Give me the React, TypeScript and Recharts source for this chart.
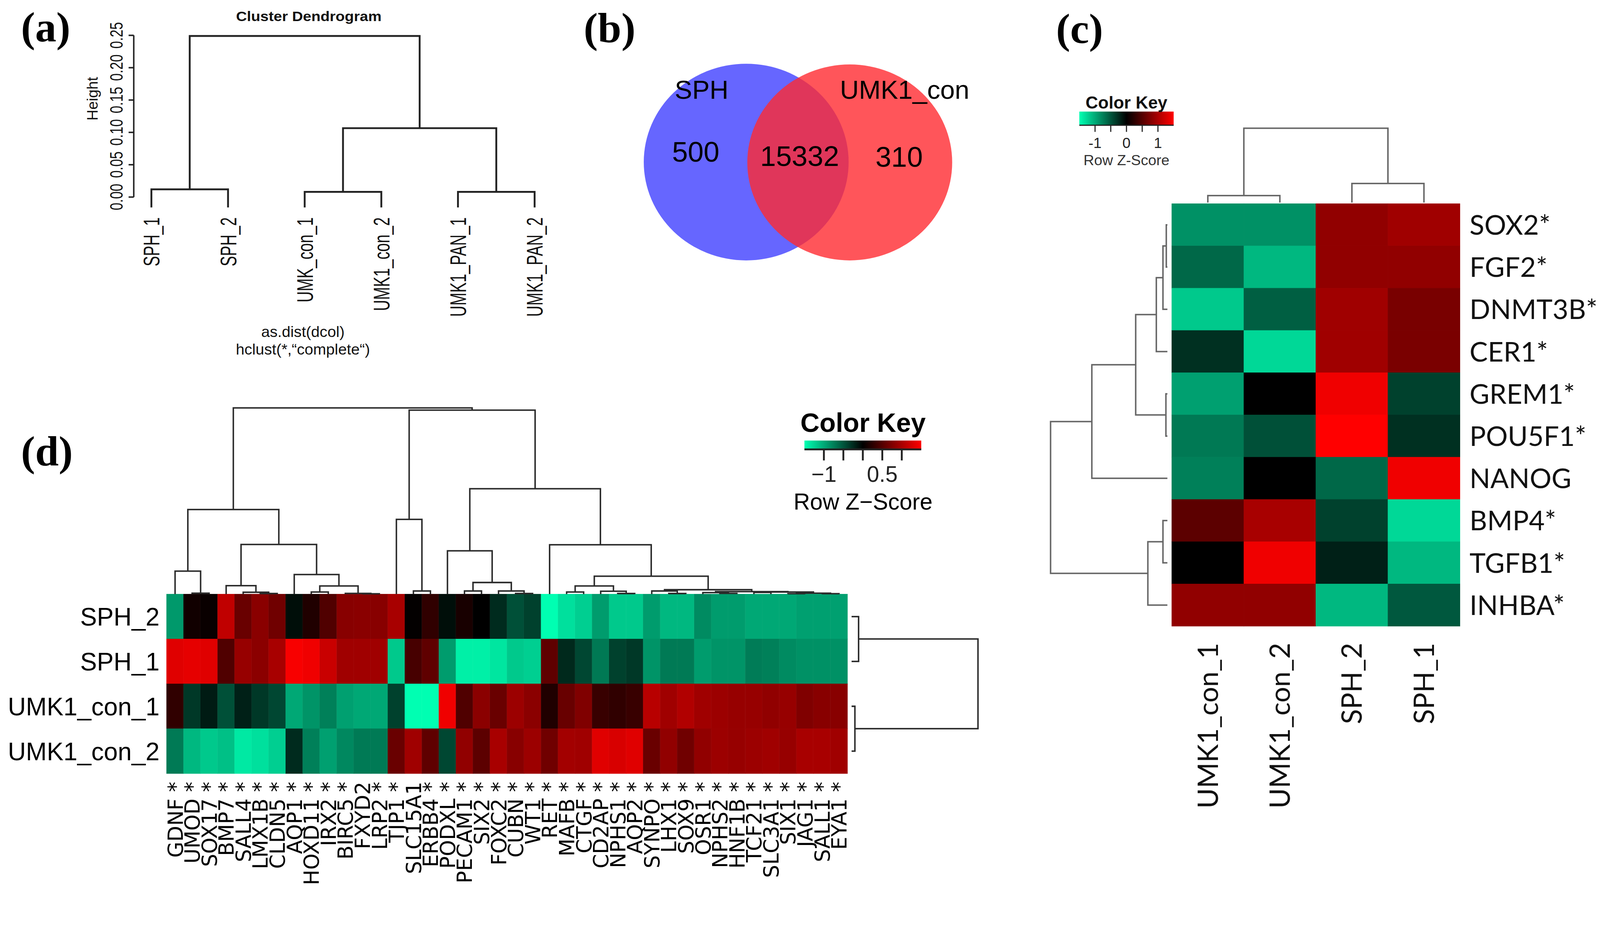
import React from "react";
import { ScatterChart, Scatter, XAxis, YAxis, ReferenceLine, ReferenceArea } from "recharts";

const PAGE_W = 4342;
const PAGE_H = 2415;

// ---------- (a) sample clustering ----------
const aLeaves = ["SPH_1", "SPH_2", "UMK_con_1", "UMK1_con_2", "UMK1_PAN_1", "UMK1_PAN_2"];
// hclust style merges: negative = leaf (1-based), positive = earlier merge; third value = height
const aMerges = [
  [-1, -2, 0.012],
  [-3, -4, 0.008],
  [-5, -6, 0.008],
  [2, 3, 0.1065],
  [1, 4, 0.249],
];
const aHeightTicks = [0, 0.05, 0.1, 0.15, 0.2, 0.25];
const aLeafHang = -0.016;

// ---------- (b) Venn ----------
const vennSets = ["SPH", "UMK1_con"];
const vennCounts = [500, 15332, 310]; // SPH only, shared, UMK1_con only

// ---------- (c) stemness genes ----------
const cGenes = ["SOX2*", "FGF2*", "DNMT3B*", "CER1*", "GREM1*", "POU5F1*", "NANOG", "BMP4*", "TGFB1*", "INHBA*"];
const cSamples = ["UMK1_con_1", "UMK1_con_2", "SPH_2", "SPH_1"];
const cUMK1_con_1 = [-0.85, -0.61, -1.18, -0.28, -0.94, -0.71, -0.75, 0.54, 0, 0.85];
const cUMK1_con_2 = [-0.85, -1.08, -0.56, -1.27, 0, -0.47, 0, 0.99, 1.41, 0.85];
const cSPH_2 = [0.85, 0.85, 0.94, 0.94, 1.41, 1.5, -0.61, -0.38, -0.19, -1.08];
const cSPH_1 = [0.94, 0.85, 0.71, 0.72, -0.38, -0.28, 1.41, -1.27, -1.08, -0.52];
const cRowMerges = [
  [-1, -2, 3],
  [-3, 1, 12],
  [-4, 2, 30],
  [-5, -6, 4],
  [3, 4, 86],
  [-7, 5, 205],
  [-8, -9, 12],
  [-10, 7, 53],
  [6, 8, 317],
];
const cColMerges = [
  [-1, -2, 19],
  [-3, -4, 52],
  [1, 2, 202],
];
const cKeyTicks = [-1, -0.5, 0, 0.5, 1];
const cKeyLabels = [-1, 0, 1];

// ---------- (d) kidney genes ----------
const dGenes = [
  "GDNF *", "UMOD *", "SOX17 *", "BMP7 *", "SALL4 *", "LMX1B *", "CLDN5 *", "AQP1 *", "HOXD11 *", "IRX2 *",
  "BIRC5 *", "FXYD2", "LRP2 *", "TJP1 *", "SLC15A1", "ERBB4 *", "PODXL *", "PECAM1 *", "SIX2 *", "FOXC2 *",
  "CUBN *", "WT1 *", "RET *", "MAFB *", "CTGF *", "CD2AP *", "NPHS1 *", "AQP2 *", "SYNPO *", "LHX1 *",
  "SOX9 *", "OSR1 *", "NPHS2 *", "HNF1B *", "TCF21 *", "SLC3A1 *", "SIX1 *", "JAG1 *", "SALL1 *", "EYA1 *",
];
const dSamples = ["SPH_2", "SPH_1", "UMK1_con_1", "UMK1_con_2"];
const dSPH_2 = [-0.9, 0.1, 0.05, 1.13, 0.62, 0.81, 0.66, -0.08, 0.19, 0.47, 0.8, 0.81, 0.8, 0.99, 0.02, 0.28, -0.08, 0.14, 0, -0.25, -0.47, -0.38, -1.5, -1.32, -1.22, -0.92, -1.18, -1.18, -0.92, -1.08, -1.08, -0.82, -0.92, -0.92, -0.99, -0.99, -0.99, -0.94, -0.94, -0.94];
const dSPH_1 = [1.32, 1.35, 1.32, 0.47, 0.89, 0.82, 0.99, 1.46, 1.41, 1.18, 0.94, 0.94, 0.94, -1.18, 0.42, 0.56, -0.92, -1.41, -1.41, -1.35, -1.18, -1.22, 0.56, -0.24, -0.42, -0.71, -0.38, -0.33, -0.87, -0.72, -0.72, -0.92, -0.87, -0.87, -0.73, -0.75, -0.82, -0.85, -0.85, -0.85];
const dUMK1_con_1 = [0.28, -0.33, -0.16, -0.47, -0.19, -0.33, -0.42, -0.99, -0.87, -0.75, -0.94, -0.99, -0.99, -0.38, -1.5, -1.5, 1.41, 0.47, 0.82, 0.62, 0.92, 0.82, 0.19, 0.61, 0.75, 0.33, 0.28, 0.33, 1.08, 0.94, 1.04, 0.94, 0.92, 0.89, 0.89, 0.85, 0.89, 0.75, 0.8, 0.8];
const dUMK1_con_2 = [-0.72, -1.08, -1.18, -1.13, -1.37, -1.32, -1.22, -0.25, -0.75, -0.94, -0.8, -0.72, -0.72, 0.62, 0.94, 0.56, -0.42, 0.85, 0.54, 0.99, 0.8, 0.92, 0.66, 0.96, 0.94, 1.32, 1.27, 1.32, 0.62, 0.85, 0.66, 0.85, 0.92, 0.89, 0.92, 0.94, 0.89, 0.99, 0.99, 0.94];
const dColMerges = [
  [-2, -3, 8], [-1, 1, 182], [-6, -7, 5], [-5, 3, 15], [-4, 4, 67],
  [-9, -10, 17], [-12, -13, 3], [-11, 7, 6], [6, 8, 65], [-8, 9, 155],
  [5, 10, 392], [2, 11, 668], [-15, -16, 25], [-14, 13, 590], [-18, -19, 25],
  [-21, -22, 5], [-20, 16, 25], [15, 17, 92], [-17, 18, 342], [-24, -25, 17],
  [-27, -28, 5], [-26, 21, 23], [20, 22, 65], [-30, -31, 5], [-29, 24, 25],
  [-33, -34, 6], [-32, 26, 12], [-35, -36, 14], [-37, -38, 4], [-39, -40, 4],
  [29, 30, 8], [28, 31, 17], [27, 32, 20], [25, 33, 35], [23, 34, 142],
  [-23, 35, 390], [19, 36, 832], [14, 37, 1452], [12, 38, 1470],
];
const dRowMerges = [
  [-1, -2, 19],
  [-3, -4, 9],
  [1, 2, 343],
];
const dKeyTicks = [-1, -0.5, 0, 0.5, 1];
const dKeyLabels = [-1, 0.5];

const zRange = [-1.5, 1.5];

// ---------- layout ----------
const layer: React.CSSProperties = { position: "absolute", left: 0, top: 0 };
const A_BOX = { x0: 363, x1: 1554.8, y0: 78.4, y1: 570.1 };
const C_HEAT = { x0: 3180, x1: 3962, y0: 553, y1: 1700 };
const C_ROWD = { x0: 2848, x1: 3168, y0: 553, y1: 1700 };
const C_COLD = { x0: 3180, x1: 3962, y0: 340, y1: 550 };
const C_KEY = { x0: 2929, x1: 3185, y0: 303, y1: 340 };
const D_HEAT = { x0: 452, x1: 2300, y0: 1613, y1: 2100 };
const D_COLD = { x0: 452, x1: 2300, y0: 1097, y1: 1613 };
const D_ROWD = { x0: 2311, x1: 2671, y0: 1613, y1: 2100 };
const D_KEY = { x0: 2183, x1: 2500, y0: 1196, y1: 1220 };

const VENN_ELLIPSES = [
  { cx: 2025, cy: 440, rx: 278, ry: 267, fill: "#6666ff", opacity: 1 },
  { cx: 2306, cy: 441, rx: 278, ry: 266, fill: "rgb(255,43,49)", opacity: 0.8 },
];
const VENN_NAME_POS = [
  { x: 1904, y: 268 },
  { x: 2455, y: 268 },
];
const VENN_COUNT_POS = [
  { x: 1888, y: 439 },
  { x: 2170, y: 451 },
  { x: 2440, y: 453 },
];

const SANS = "Liberation Sans, Arial, sans-serif";
const noShape = () => <g />;

function zColor(z: number) {
  const t = Math.max(-1, Math.min(1, z / zRange[1]));
  if (t >= 0) return `rgb(${Math.round(255 * t)},0,0)`;
  return `rgb(0,${Math.round(255 * -t)},${Math.round(178 * -t)})`;
}

type Pt = { p: number; h: number };
function dendroLinks(merges: number[][], leafH: number): Pt[][] {
  const pos: number[] = [];
  const hgt: number[] = [];
  const node = (id: number): Pt => (id < 0 ? { p: -id - 1, h: leafH } : { p: pos[id - 1], h: hgt[id - 1] });
  return merges.map(([a, b, h], i) => {
    const l = node(a);
    const r = node(b);
    pos[i] = (l.p + r.p) / 2;
    hgt[i] = h;
    return [l, { p: l.p, h }, { p: r.p, h }, r];
  });
}

type Box = { x0: number; x1: number; y0: number; y1: number };
const marginFor = (b: Box, l = 0, r = 0, t = 0, bt = 0) => ({
  left: b.x0 - l,
  right: PAGE_W - b.x1 - r,
  top: b.y0 - t,
  bottom: PAGE_H - b.y1 - bt,
});

function Dendrogram({ merges, leafH = 0, box, posDomain, hDomain, orient, stroke, strokeWidth }: any) {
  const links = dendroLinks(merges, leafH);
  const vertical = orient === "top";
  return (
    <div style={layer}>
      <ScatterChart width={PAGE_W} height={PAGE_H} margin={marginFor(box)}>
        <XAxis type="number" dataKey="x" domain={vertical ? posDomain : hDomain} reversed={orient === "left"} hide />
        <YAxis type="number" dataKey="y" domain={vertical ? hDomain : posDomain} reversed={!vertical} hide />
        {links.map((pts, i) => (
          <Scatter
            key={i}
            data={pts.map((q) => (vertical ? { x: q.p, y: q.h } : { x: q.h, y: q.p }))}
            line={{ stroke, strokeWidth }}
            shape={noShape}
            isAnimationActive={false}
          />
        ))}
      </ScatterChart>
    </div>
  );
}

function Heatmap({ box, rowNames, colNames, values, rowSide, rowTick, colTick, sep }: any) {
  const cw = (box.x1 - box.x0) / colNames.length;
  const ch = (box.y1 - box.y0) / rowNames.length;
  const cells: { x: number; y: number; v: number }[] = [];
  values.forEach((row: number[], i: number) => row.forEach((v, j) => cells.push({ x: j, y: i, v })));
  const m = marginFor(box, rowSide === "left" ? 10 : 0, rowSide === "right" ? 10 : 0, 0, 10);
  return (
    <div style={layer}>
      <ScatterChart width={PAGE_W} height={PAGE_H} margin={m}>
        <XAxis
          type="number"
          dataKey="x"
          domain={[-0.5, colNames.length - 0.5]}
          ticks={colNames.map((_: string, j: number) => j)}
          interval={0}
          height={10}
          axisLine={false}
          tickLine={false}
          tick={colTick}
        />
        <YAxis
          type="number"
          dataKey="y"
          orientation={rowSide}
          width={10}
          domain={[-0.5, rowNames.length - 0.5]}
          reversed
          ticks={rowNames.map((_: string, i: number) => i)}
          interval={0}
          axisLine={false}
          tickLine={false}
          tick={rowTick}
        />
        <Scatter
          data={cells}
          isAnimationActive={false}
          shape={(p: any) => (
            <g>
              <rect
                x={p.cx - cw / 2}
                y={p.cy - ch / 2}
                width={cw}
                height={ch}
                fill={zColor(p.payload.v)}
                stroke={zColor(p.payload.v)}
                strokeWidth={1}
              />
              {sep ? (
                <line
                  x1={p.cx + cw / 2}
                  x2={p.cx + cw / 2}
                  y1={p.cy - ch / 2}
                  y2={p.cy + ch / 2}
                  stroke="rgba(255,255,255,0.09)"
                  strokeWidth={2}
                />
              ) : null}
            </g>
          )}
        />
      </ScatterChart>
    </div>
  );
}

function ColorKey({ box, ticks, labels, tickSize, strokeWidth, labelY, fontSize, minus }: any) {
  return (
    <div style={layer}>
      <ScatterChart width={PAGE_W} height={PAGE_H} margin={marginFor(box, 0, 0, 0, 10)}>
        <XAxis
          type="number"
          dataKey="x"
          domain={zRange}
          ticks={ticks}
          interval={0}
          height={10}
          tickSize={tickSize}
          axisLine={{ stroke: "#222", strokeWidth }}
          tickLine={{ stroke: "#222", strokeWidth }}
          tick={(p: any) =>
            labels.includes(p.payload.value) ? (
              <text x={p.x} y={labelY} textAnchor="middle" fontFamily={SANS} fontSize={fontSize} fill="#222">
                {String(p.payload.value).replace("-", minus)}
              </text>
            ) : (
              <g />
            )
          }
        />
        <YAxis type="number" dataKey="y" domain={[0, 1]} hide />
        <ReferenceArea x1={zRange[0]} x2={zRange[1]} y1={0} y2={1} fill="url(#zkey)" fillOpacity={1} stroke="none" />
        <Scatter data={[{ x: zRange[0], y: 0 }, { x: zRange[1], y: 1 }]} shape={noShape} isAnimationActive={false} />
      </ScatterChart>
    </div>
  );
}

function PanelA() {
  const links = dendroLinks(aMerges, aLeafHang);
  return (
    <div style={layer}>
      <ScatterChart width={PAGE_W} height={PAGE_H} margin={marginFor(A_BOX, 60, 0, 0, 30)}>
        <XAxis
          type="number"
          dataKey="x"
          domain={[-0.23, 5.5]}
          ticks={aLeaves.map((_, i) => i)}
          interval={0}
          height={30}
          axisLine={false}
          tickLine={false}
          tick={(p: any) => (
            <text
              transform={`translate(${p.x + 22},590) rotate(-90) scale(1,1.45)`}
              textAnchor="end"
              fontFamily={SANS}
              fontSize={42}
              fill="#111"
            >
              {aLeaves[p.payload.value]}
            </text>
          )}
        />
        <YAxis
          type="number"
          dataKey="y"
          domain={[-0.02, 0.26]}
          ticks={aHeightTicks}
          interval={0}
          width={60}
          axisLine={false}
          tickSize={14}
          tickLine={{ stroke: "#222", strokeWidth: 4 }}
          tick={(p: any) => (
            <text
              transform={`translate(333,${p.y}) rotate(-90) scale(1,1.3)`}
              textAnchor="middle"
              fontFamily={SANS}
              fontSize={37}
              fill="#111"
            >
              {Number(p.payload.value).toFixed(2)}
            </text>
          )}
        />
        <ReferenceLine
          segment={[
            { x: -0.23, y: aHeightTicks[0] },
            { x: -0.23, y: aHeightTicks[aHeightTicks.length - 1] },
          ]}
          stroke="#222"
          strokeWidth={4}
        />
        {links.map((pts, i) => (
          <Scatter
            key={i}
            data={pts.map((q) => ({ x: q.p, y: q.h }))}
            line={{ stroke: "#222", strokeWidth: 5 }}
            shape={noShape}
            isAnimationActive={false}
          />
        ))}
      </ScatterChart>
    </div>
  );
}

function PanelB() {
  const ellipses = vennSets.map((name, i) => ({ x: VENN_ELLIPSES[i].cx, y: VENN_ELLIPSES[i].cy, i, name }));
  const names = vennSets.map((name, i) => ({ x: VENN_NAME_POS[i].x, y: VENN_NAME_POS[i].y, label: name }));
  const counts = vennCounts.map((c, i) => ({ x: VENN_COUNT_POS[i].x, y: VENN_COUNT_POS[i].y, label: String(c) }));
  const textShape = (size: number) => (p: any) => (
    <text x={p.cx} y={p.cy} textAnchor="middle" fontFamily={SANS} fontSize={size} fill="#000">
      {p.payload.label}
    </text>
  );
  return (
    <div style={layer}>
      <ScatterChart width={PAGE_W} height={PAGE_H} margin={{ left: 0, right: 0, top: 0, bottom: 0 }}>
        <XAxis type="number" dataKey="x" domain={[0, PAGE_W]} hide />
        <YAxis type="number" dataKey="y" domain={[0, PAGE_H]} reversed hide />
        <Scatter
          data={ellipses}
          isAnimationActive={false}
          shape={(p: any) => {
            const e = VENN_ELLIPSES[p.payload.i];
            return <ellipse cx={p.cx} cy={p.cy} rx={e.rx} ry={e.ry} fill={e.fill} fillOpacity={e.opacity} />;
          }}
        />
        <Scatter data={names} isAnimationActive={false} shape={textShape(71)} />
        <Scatter data={counts} isAnimationActive={false} shape={textShape(77)} />
      </ScatterChart>
    </div>
  );
}

function Overlay() {
  const serif = "Liberation Serif, Times New Roman, serif";
  return (
    <svg width={PAGE_W} height={PAGE_H} style={{ ...layer, pointerEvents: "none" }}>
      <defs>
        <linearGradient id="zkey" x1="0" x2="1" y1="0" y2="0">
          <stop offset="0%" stopColor="rgb(0,255,178)" />
          <stop offset="50%" stopColor="#000" />
          <stop offset="100%" stopColor="rgb(255,0,0)" />
        </linearGradient>
      </defs>
      <g fontFamily={serif} fontWeight="bold" fontSize={115} fill="#000">
        <text x={57} y={112}>(a)</text>
        <text x={1584} y={115}>(b)</text>
        <text x={2866} y={117}>(c)</text>
        <text x={57} y={1264}>(d)</text>
      </g>
      <text x={838} y={57} textAnchor="middle" fontFamily={SANS} fontWeight="bold" fontSize={38} textLength={395} lengthAdjust="spacingAndGlyphs" fill="#111">
        Cluster Dendrogram
      </text>
      <text transform="translate(265,268) rotate(-90)" textAnchor="middle" fontFamily={SANS} fontSize={41} fill="#111">
        Height
      </text>
      <text x={822} y={915} textAnchor="middle" fontFamily={SANS} fontSize={42} fill="#111">
        as.dist(dcol)
      </text>
      <text x={822} y={963} textAnchor="middle" fontFamily={SANS} fontSize={42} fill="#111">
        hclust(*,“complete“)
      </text>
      <text x={3057} y={295} textAnchor="middle" fontFamily={SANS} fontWeight="bold" fontSize={47} fill="#111">
        Color Key
      </text>
      <text x={3057} y={448} textAnchor="middle" fontFamily={SANS} fontSize={40} fill="#333">
        Row Z-Score
      </text>
      <text x={2342} y={1172} textAnchor="middle" fontFamily={SANS} fontWeight="bold" fontSize={72} fill="#000">
        Color Key
      </text>
      <text x={2342} y={1383} textAnchor="middle" fontFamily={SANS} fontSize={62} fill="#000">
        Row Z−Score
      </text>
    </svg>
  );
}

function viewportScale() {
  if (typeof window === "undefined") return 1;
  const s = Math.min(window.innerWidth / PAGE_W, window.innerHeight / PAGE_H);
  return s > 0 && s < 1 ? s : 1;
}

export default function App() {
  const cValues = cGenes.map((_, i) => [cUMK1_con_1[i], cUMK1_con_2[i], cSPH_2[i], cSPH_1[i]]);
  const dValues = [dSPH_2, dSPH_1, dUMK1_con_1, dUMK1_con_2];
  const lato = "Lato, Open Sans, sans-serif";
  const s = viewportScale();
  return (
    <div style={{ position: "absolute", left: 0, top: 0, width: PAGE_W * s, height: PAGE_H * s, overflow: "hidden", background: "#fff" }}>
      <div style={{ position: "absolute", left: 0, top: 0, width: PAGE_W, height: PAGE_H, transform: `scale(${s})`, transformOrigin: "0 0" }}>
        <PanelA />
        <PanelB />

        <Heatmap
          box={C_HEAT}
          rowNames={cGenes}
          colNames={cSamples}
          values={cValues}
          rowSide="right"
          rowTick={(p: any) => (
            <text x={3988} y={p.y} dy="0.36em" fontFamily={lato} fontSize={74} fill="#111">
              {cGenes[p.payload.value]}
            </text>
          )}
          colTick={(p: any) => (
            <text transform={`translate(${p.x + 27},1745) rotate(-90)`} textAnchor="end" fontFamily={lato} fontSize={75} fill="#111">
              {cSamples[p.payload.value]}
            </text>
          )}
        />
        <Dendrogram merges={cRowMerges} box={C_ROWD} posDomain={[-0.5, 9.5]} hDomain={[0, 320]} orient="left" stroke="#666" strokeWidth={4} />
        <Dendrogram merges={cColMerges} box={C_COLD} posDomain={[-0.5, 3.5]} hDomain={[0, 210]} orient="top" stroke="#666" strokeWidth={4} />
        <ColorKey box={C_KEY} ticks={cKeyTicks} labels={cKeyLabels} tickSize={18} strokeWidth={3} labelY={402} fontSize={40} minus="-" />

        <Heatmap
          box={D_HEAT}
          rowNames={dSamples}
          colNames={dGenes}
          values={dValues}
          rowSide="left"
          sep
          rowTick={(p: any) => (
            <text x={433} y={p.y} dy="0.36em" textAnchor="end" fontFamily={SANS} fontSize={68} fill="#000">
              {dSamples[p.payload.value]}
            </text>
          )}
          colTick={(p: any) => (
            <text
              transform={`translate(${p.x + 20.5},2122) rotate(-90)`}
              textAnchor="end"
              fontFamily="DejaVu Sans, sans-serif"
              fontSize={56}
              fill="#000"
            >
              {dGenes[p.payload.value]}
            </text>
          )}
        />
        <Dendrogram merges={dColMerges} box={D_COLD} posDomain={[-0.5, 39.5]} hDomain={[0, 1500]} orient="top" stroke="#2a2a2a" strokeWidth={4} />
        <Dendrogram merges={dRowMerges} box={D_ROWD} posDomain={[-0.5, 3.5]} hDomain={[0, 360]} orient="right" stroke="#2a2a2a" strokeWidth={4} />
        <ColorKey box={D_KEY} ticks={dKeyTicks} labels={dKeyLabels} tickSize={30} strokeWidth={5} labelY={1308} fontSize={60} minus="−" />

        <Overlay />
      </div>
    </div>
  );
}
